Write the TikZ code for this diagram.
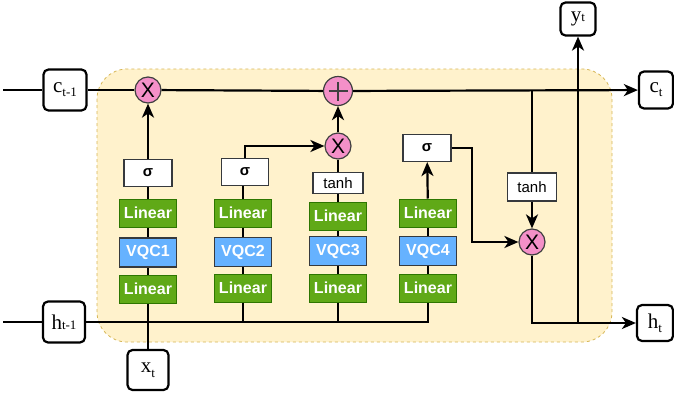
\documentclass[tikz,border=0pt]{standalone}
\usepackage{fontspec}
\setmainfont{Liberation Serif}
\setsansfont{Liberation Sans}
\usetikzlibrary{arrows.meta}
\definecolor{ybg}{HTML}{FFF2CC}
\definecolor{yborder}{HTML}{D6B656}
\definecolor{lgreen}{HTML}{60A917}
\definecolor{lgreenb}{HTML}{2D7600}
\definecolor{vblue}{HTML}{66B2FF}
\definecolor{vblueb}{HTML}{36393D}
\definecolor{pinkop}{HTML}{F490C8}
\newcommand{\lab}[3]{{\fontsize{21}{21}\selectfont #1}\raisebox{#3}{\fontsize{13}{13}\selectfont #2}}
\begin{document}
\begin{tikzpicture}[x=1pt,y=-1pt,
  conn/.style={line width=2.2pt,draw=black},
  arr/.style={conn,-{Stealth[length=14pt,width=12pt,inset=4pt]}},
  io/.style={draw,line width=2.2pt,rounded corners=5pt,fill=white,inner sep=0pt},
  op/.style={circle,draw=black!75,line width=1.2pt,fill=pinkop,inner sep=0pt,minimum size=26pt,font=\sffamily\fontsize{21}{21}\selectfont},
  lin/.style={draw=lgreenb,fill=lgreen,line width=1pt,text=white,font=\sffamily\bfseries\fontsize{16}{16}\selectfont,minimum width=57pt,minimum height=28pt,inner sep=0pt},
  vqc/.style={draw=vblueb,fill=vblue,line width=1.2pt,text=white,font=\sffamily\bfseries\fontsize{16}{16}\selectfont,minimum width=57pt,minimum height=29pt,inner sep=0pt},
  act/.style={draw=vblueb,fill=white,line width=1.2pt,font=\sffamily\fontsize{15}{15}\selectfont,minimum width=48pt,minimum height=27pt,inner sep=0pt}]
\useasboundingbox (0,0) rectangle (674,399);
% cell background
\draw[draw=yborder,fill=ybg,dashed,line width=0.8pt,rounded corners=30pt] (97,69) rectangle (612,342);

% inputs / outputs
\node[io,minimum width=43pt,minimum height=41pt] (cprev) at (65,90) {\lab{c}{t-1}{-4pt}};
\node[io,minimum width=42pt,minimum height=41pt] (hprev) at (64,322) {\lab{h}{t-1}{0pt}};
\node[io,minimum width=41pt,minimum height=40pt] (xt) at (148,370) {\lab{x}{t}{-5pt}};
\node[io,minimum width=35pt,minimum height=33pt] (yt) at (578,19) {\lab{y}{t}{0pt}};
\node[io,minimum width=34pt,minimum height=37pt] (ct) at (656,90) {\lab{c}{t}{-4pt}};
\node[io,minimum width=36pt,minimum height=36pt] (ht) at (655,323) {\lab{h}{t}{-4pt}};

% operators
\node[op] (m1) at (148,90) {X};
\node[op,minimum size=29pt,path picture={
  \draw[line width=2pt] ([xshift=-9.5pt]path picture bounding box.center) -- ([xshift=9.5pt]path picture bounding box.center);
  \draw[line width=2pt] ([yshift=-9.5pt]path picture bounding box.center) -- ([yshift=9.5pt]path picture bounding box.center);}] (plus) at (338,91) {};
\node[op] (m2) at (338,146) {X};
\node[op] (m3) at (532,242) {X};

% column 1
\node[lin] (l1t) at (148,213) {Linear};
\node[vqc] (v1) at (148,252.5) {VQC1};
\node[lin] (l1b) at (148,289) {Linear};
\node[act] (s1) at (148,173) {\textbf{σ}};
% column 2
\node[lin] (l2t) at (243,213) {Linear};
\node[vqc] (v2) at (243,252) {VQC2};
\node[lin] (l2b) at (243,288) {Linear};
\node[act,minimum width=47pt] (s2) at (245,172) {\textbf{σ}};
% column 3
\node[lin] (l3t) at (338,216) {Linear};
\node[vqc] (v3) at (338,251) {VQC3};
\node[lin] (l3b) at (338,288) {Linear};
\node[act,minimum width=50pt,minimum height=21pt] (t3) at (338,183) {tanh};
% column 4
\node[lin] (l4t) at (428,213) {Linear};
\node[vqc] (v4) at (428,251) {VQC4};
\node[lin] (l4b) at (428,288) {Linear};
\node[act] (s4) at (427,148) {\textbf{σ}};
% output tanh
\node[act,minimum width=49pt,minimum height=28pt] (tn) at (532,187) {tanh};

% junction coordinates
\coordinate (cin) at (3,90);
\coordinate (hin) at (3,322);
\coordinate (hcorner) at (428,322);
\coordinate (cj) at (532,90);
\coordinate (yj) at (578,322);
\coordinate (sbend) at (472,148);

% connectors
\draw[conn] (cin) -- (cprev);
\draw[conn] (hin) -- (hprev);
\draw[conn] (cprev) -- (m1);
\draw[conn] (m1) -- (plus);
\draw[arr] (plus) -- (ct);
\draw[conn] (hprev) -- (hcorner) -- (l4b);
\draw[conn] (l2b) -- (l2b |- hcorner);
\draw[conn] (l3b) -- (l3b |- hcorner);
\draw[conn] (xt) -- (l1b);
% column 1
\draw[conn] (l1b) -- (v1);
\draw[conn] (v1) -- (l1t);
\draw[conn] (l1t) -- (s1);
\draw[arr] (s1) -- (m1);
% column 2
\draw[conn] (l2b) -- (v2);
\draw[conn] (v2) -- (l2t);
\draw[conn] (l2t) -- (l2t |- s2.south);
\draw[arr] (s2.north) |- (m2);
% column 3
\draw[conn] (l3b) -- (v3);
\draw[conn] (v3) -- (l3t);
\draw[conn] (l3t) -- (t3);
\draw[conn] (t3) -- (m2);
\draw[arr] (m2) -- (plus);
% column 4
\draw[conn] (l4b) -- (v4);
\draw[conn] (v4) -- (l4t);
\draw[arr] (l4t) -- (s4);
\draw[arr] (s4.east) -- (sbend) |- (m3);
% output
\draw[conn] (cj) -- (tn);
\draw[arr] (tn) -- (m3);
\draw[arr] (m3) |- (ht);
\draw[arr] (yj) -- (yt);
\end{tikzpicture}
\end{document}
